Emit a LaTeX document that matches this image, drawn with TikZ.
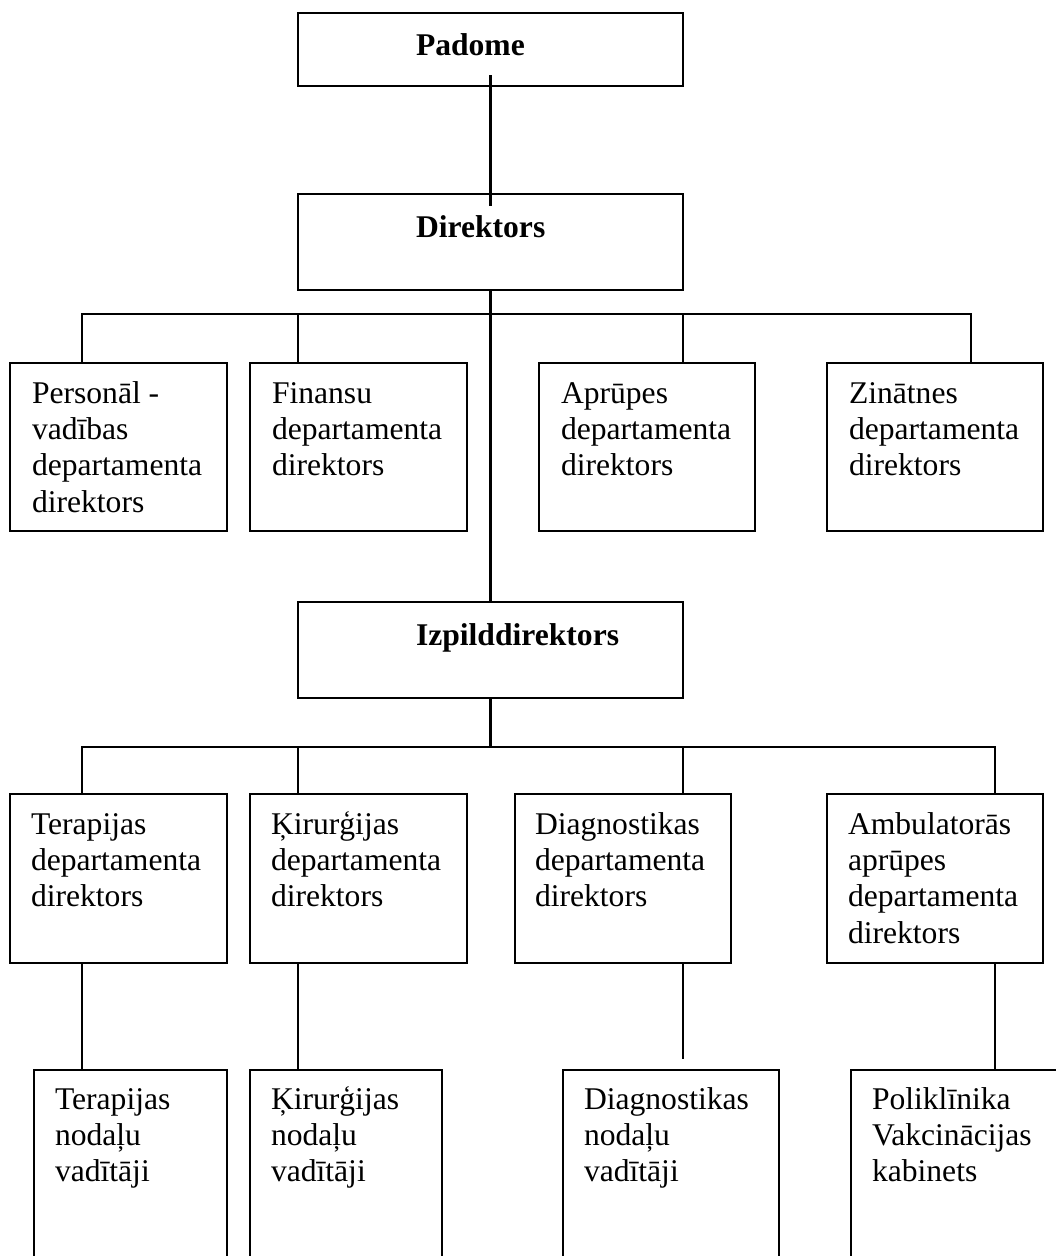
\documentclass[tikz,border=0pt]{standalone}
\usepackage{fontspec}
\setmainfont{Liberation Serif}

% inset, width, height, first baseline, text
\newcommand{\orgcell}[5]{\hspace*{#1pt}\parbox[t][#3pt][t]{\dimexpr#2pt-#1pt\relax}{\raggedright\rule{0pt}{#4pt}#5}}

\begin{document}
\begin{tikzpicture}[x=1pt,y=-1pt,font=\fontsize{31.6}{36.4}\selectfont,
	unit/.style={draw,line width=2.2pt,anchor=north west,inner sep=0pt,outer sep=0pt},
	link/.style={line width=2.2pt}]
		\useasboundingbox (0,0) rectangle (1056,1256);
		\clip (0,0) rectangle (1056,1256);
		
		%management
		\node[unit] (pad) at (298,13) {\orgcell{118}{385}{73}{42}{\bfseries Padome}};
		\node[unit] (dir) at (298,194) {\orgcell{118}{385}{96}{43}{\bfseries Direktors}};
		\node[unit] (izp) at (298,602) {\orgcell{118}{385}{96}{43}{\bfseries Izpilddirektors}};
		
		%departments under the director
		\node[unit] (pers) at (10,363) {\orgcell{22}{217}{168}{40}{Personāl -\\vadības\\departamenta\\direktors}};
		\node[unit] (fin) at (250,363) {\orgcell{22}{217}{168}{40}{Finansu\\departamenta\\direktors}};
		\node[unit] (apr) at (539,363) {\orgcell{22}{216}{168}{40}{Aprūpes\\departamenta\\direktors}};
		\node[unit] (zin) at (827,363) {\orgcell{22}{216}{168}{40}{Zinātnes\\departamenta\\direktors}};
		
		%departments under the executive director
		\node[unit] (ter) at (10,794) {\orgcell{21}{217}{169}{40}{Terapijas\\departamenta\\direktors}};
		\node[unit] (kir) at (250,794) {\orgcell{21}{217}{169}{40}{Ķirurģijas\\departamenta\\direktors}};
		\node[unit] (dia) at (515,794) {\orgcell{20}{216}{169}{40}{Diagnostikas\\departamenta\\direktors}};
		\node[unit] (amb) at (827,794) {\orgcell{21}{216}{169}{40}{Ambulatorās\\aprūpes\\departamenta\\direktors}};
		
		%units
		\node[unit] (ter3) at (34,1070) {\orgcell{21}{193}{250}{39}{Terapijas\\nodaļu\\vadītāji}};
		\node[unit] (kir3) at (250,1070) {\orgcell{21}{192}{250}{39}{Ķirurģijas\\nodaļu\\vadītāji}};
		\node[unit] (dia3) at (563,1070) {\orgcell{21}{216}{250}{39}{Diagnostikas\\nodaļu\\vadītāji}};
		\node[unit] (pol3) at (851,1070) {\orgcell{21}{260}{250}{39}{Poliklīnika\\Vakcinācijas\\kabinets}};
		
		%trunk
		\draw[link] ([yshift=-62pt]pad.north) -- ([yshift=-12pt]dir.north);
		\draw[link] (dir.south) -- (izp.north);
		\draw[link] (izp.south) -- ++(0,49);
		
		%first level bus
		\draw[link] ([xshift=72pt]pers.north west) -- ++(0,-49) -| ([xshift=144pt]zin.north west);
		\draw[link] ([xshift=48pt]fin.north west) -- ++(0,-49);
		\draw[link] ([xshift=144pt]apr.north west) -- ++(0,-49);
		
		%second level bus
		\draw[link] ([xshift=72pt]ter.north west) -- ++(0,-47) -| ([xshift=168pt]amb.north west);
		\draw[link] ([xshift=48pt]kir.north west) -- ++(0,-47);
		\draw[link] ([xshift=168pt]dia.north west) -- ++(0,-47);
		
		%down to the units
		\draw[link] ([xshift=72pt]ter.south west) -- ([xshift=48pt]ter3.north west);
		\draw[link] ([xshift=48pt]kir.south west) -- ([xshift=48pt]kir3.north west);
		\draw[link] ([xshift=168pt]dia.south west) -- ([xshift=120pt,yshift=11pt]dia3.north west);
		\draw[link] ([xshift=168pt]amb.south west) -- ([xshift=144pt]pol3.north west);
		
		\end{tikzpicture}
\end{document}
